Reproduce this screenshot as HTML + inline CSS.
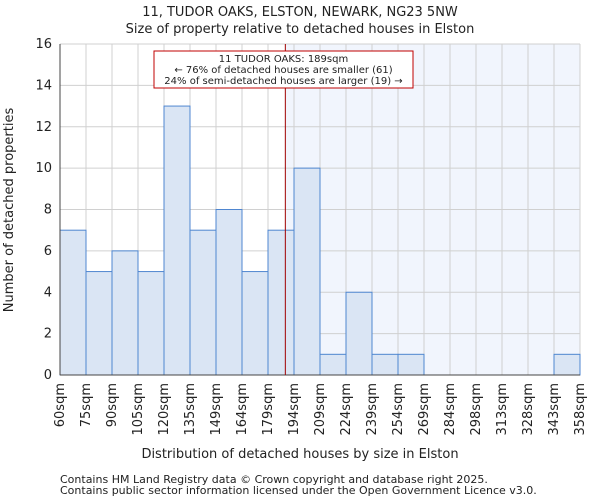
<!DOCTYPE html>
<html><head><meta charset="utf-8"><style>
body{margin:0;background:#fff;font-family:"DejaVu Sans","Liberation Sans",sans-serif}
svg text{font-family:"DejaVu Sans","Liberation Sans",sans-serif;fill:#222}
</style></head><body>
<svg id="c" width="600" height="500" xmlns="http://www.w3.org/2000/svg"></svg>
<script>
const categories=["60sqm","75sqm","90sqm","105sqm","120sqm","135sqm","149sqm","164sqm","179sqm","194sqm","209sqm","224sqm","239sqm","254sqm","269sqm","284sqm","298sqm","313sqm","328sqm","343sqm","358sqm"];
const counts=[7,5,6,5,13,7,8,5,7,10,1,4,1,1,0,0,0,0,0,1];
const yTicks=[0,2,4,6,8,10,12,14,16];
const binEdges=[60,75,90,105,120,135,149,164,179,194,209,224,239,254,269,284,298,313,328,343,358];
const propertySize=189;
const svg=document.getElementById('c');const NS='http://www.w3.org/2000/svg';
const L=60,R=580,T=44,B=375,yMax=16;
const bw=(R-L)/counts.length;
const X=i=>L+i*bw;
const Y=v=>B-(v/yMax)*(B-T);
function sizeX(s){for(let i=0;i<binEdges.length-1;i++){if(s>=binEdges[i]&&s<=binEdges[i+1])return X(i)+(s-binEdges[i])/(binEdges[i+1]-binEdges[i])*bw;}return R;}
function el(t,a,txt){const e=document.createElementNS(NS,t);for(const k in a)e.setAttribute(k,a[k]);if(txt!==undefined)e.textContent=txt;svg.appendChild(e);return e;}
const px=sizeX(propertySize);
let e=el('rect',{x:px,y:T,width:R-px,height:B-T,fill:'#f1f5fd'});

for(let i=0;i<=counts.length;i++){e=el('line',{x1:X(i),x2:X(i),y1:T,y2:B,stroke:'#d0d0d0','stroke-width':1});}
yTicks.forEach(v=>{e=el('line',{x1:L,x2:R,y1:Y(v),y2:Y(v),stroke:'#d0d0d0','stroke-width':1});
e=el('text',{x:L-8,y:Y(v)+4,'text-anchor':'end','font-size':13},v);});
counts.forEach((c,i)=>{if(c<=0)return;e=el('rect',{x:X(i),y:Y(c),width:bw,height:B-Y(c),fill:'#dae5f4',stroke:'#4f86d0','stroke-width':1});});
categories.forEach((c,i)=>{const x=X(i)+4;e=el('text',{x:x,y:383,'text-anchor':'end','font-size':13,transform:`rotate(-90 ${x} 383)`},c);});
e=el('line',{x1:L,x2:L,y1:T,y2:B,stroke:'#444'});
e=el('line',{x1:L,x2:R,y1:B,y2:B,stroke:'#444'});
e=el('line',{x1:px,x2:px,y1:T,y2:B,stroke:'#a00000','stroke-width':1});
e=el('rect',{x:154,y:51,width:259,height:37,fill:'#fff',stroke:'#c00000','stroke-width':1});
[["11 TUDOR OAKS: 189sqm",62],["← 76% of detached houses are smaller (61)",73],["24% of semi-detached houses are larger (19) →",84]].forEach(([t,y])=>{e=el('text',{x:283.5,y:y,'text-anchor':'middle','font-size':10},t);});
e=el('text',{x:300,y:16,'text-anchor':'middle','font-size':13},'11, TUDOR OAKS, ELSTON, NEWARK, NG23 5NW');
e=el('text',{x:300,y:33,'text-anchor':'middle','font-size':13},'Size of property relative to detached houses in Elston');
e=el('text',{x:300,y:458,'text-anchor':'middle','font-size':13},'Distribution of detached houses by size in Elston');
e=el('text',{x:13,y:210,'text-anchor':'middle','font-size':13,transform:'rotate(-90 13 210)'},'Number of detached properties');
e=el('text',{x:60,y:483,'font-size':11},'Contains HM Land Registry data © Crown copyright and database right 2025.');
e=el('text',{x:60,y:494,'font-size':11},'Contains public sector information licensed under the Open Government Licence v3.0.');
</script>
</body></html>
